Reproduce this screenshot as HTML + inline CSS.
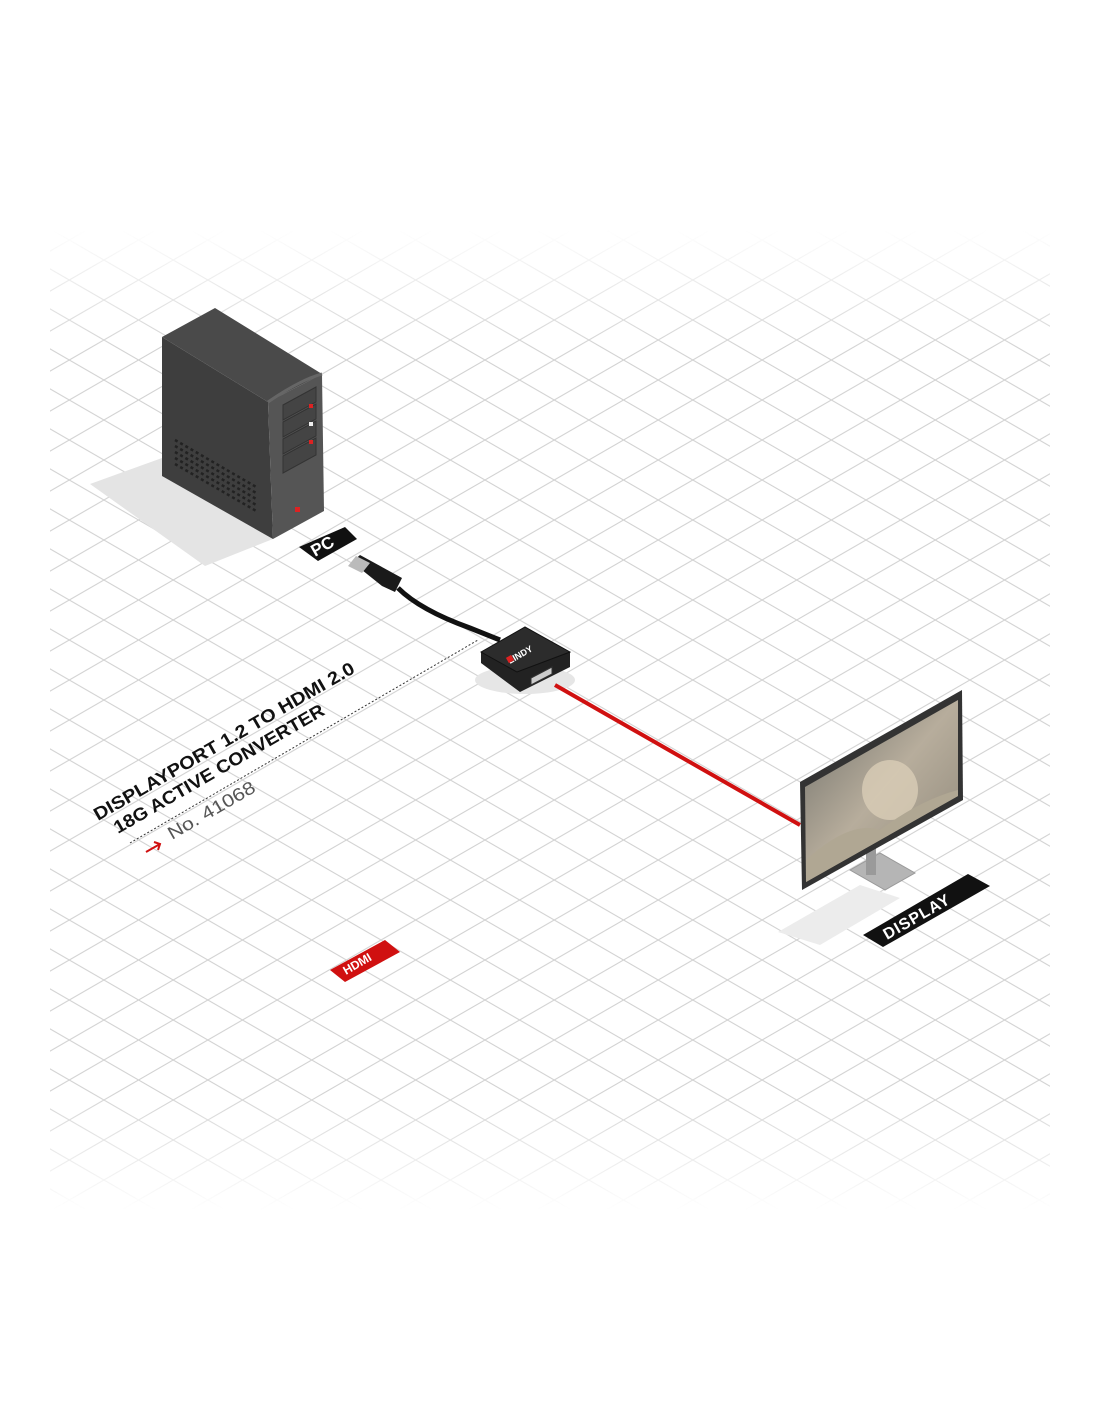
<!DOCTYPE html>
<html><head><meta charset="utf-8"><style>
html,body{margin:0;padding:0;background:#fff;}
svg{display:block;}
text{font-family:"Liberation Sans",sans-serif;}
</style></head><body>
<svg width="1100" height="1422" viewBox="0 0 1100 1422" xmlns="http://www.w3.org/2000/svg">
<defs>
<linearGradient id="fv" x1="0" y1="230" x2="0" y2="1210" gradientUnits="userSpaceOnUse">
<stop offset="0" stop-color="#000"/><stop offset="0.12" stop-color="#fff"/><stop offset="0.88" stop-color="#fff"/><stop offset="1" stop-color="#000"/>
</linearGradient>
<mask id="m"><rect x="50" y="230" width="1000" height="980" fill="url(#fv)"/></mask>
<pattern id="grid" width="69.28" height="40" patternUnits="userSpaceOnUse">
<path d="M0 0 L69.28 40 M0 40 L69.28 0 M-69.28 40 L69.28 -40 M0 80 L69.28 40 M0 -40 L69.28 0 M0 40 L69.28 80" stroke="#d2d2d2" stroke-width="1.1" fill="none"/>
</pattern>
<linearGradient id="scr" x1="0" y1="0" x2="1" y2="1">
<stop offset="0" stop-color="#6e6e68"/><stop offset="0.5" stop-color="#b7ad9c"/><stop offset="1" stop-color="#8d8678"/>
</linearGradient>
</defs>
<rect width="1100" height="1422" fill="#fff"/>
<rect x="0" y="180" width="1100" height="1080" fill="url(#grid)" mask="url(#m)"/>

<!-- PC shadow -->
<polygon points="90,484 162,458 273,539 205,566" fill="#e4e4e4"/>
<!-- PC -->
<polygon points="162,337 268,402 273,539 162,476" fill="#3e3e3e"/>
<polygon points="162,337 215,308 322,374 268,402" fill="#4a4a4a"/>
<polygon points="268,402 322,374 324,511 273,539" fill="#555"/>
<path d="M268 402 Q300 380 322 374" stroke="#666" stroke-width="3" fill="none"/>
<polygon points="283,405 316,387 316,402 283,420" fill="#444" stroke="#333"/>
<polygon points="283,422 316,404 316,419 283,437" fill="#444" stroke="#333"/>
<polygon points="283,439 316,421 316,436 283,454" fill="#444" stroke="#333"/>
<polygon points="283,456 316,438 316,455 283,473" fill="#444" stroke="#333"/>
<rect x="309" y="404" width="4" height="4" fill="#d22"/>
<rect x="309" y="422" width="4" height="4" fill="#eee"/>
<rect x="309" y="440" width="4" height="4" fill="#d22"/>
<rect x="295" y="507" width="5" height="5" fill="#d22"/>
<path d="M175 440 L258 488 M175 446 L258 494 M175 452 L258 500 M175 458 L258 506 M175 464 L258 512" stroke="#222" stroke-width="2.5" stroke-dasharray="3 3"/>

<!-- PC label -->
<polygon points="299,547 345,527 357,539 318,561" fill="#111"/>
<text font-size="17" font-weight="bold" fill="#fff" transform="translate(315,557) rotate(-30)">PC</text>

<!-- DP plug & cable -->
<path d="M398 588 Q420 610 470 628 L500 640" stroke="#111" stroke-width="5" fill="none"/>
<polygon points="352,562 360,555 402,578 395,592 382,586" fill="#1a1a1a"/>
<polygon points="348,566 356,556 370,563 362,573" fill="#bbb"/>

<!-- dotted leader -->
<line x1="130" y1="843" x2="478" y2="640" stroke="#333" stroke-width="1" stroke-dasharray="2 2"/>

<!-- converter -->
<ellipse cx="525" cy="680" rx="50" ry="14" fill="#e6e6e6"/>
<polygon points="481,652 481,663 520,692 570,667 570,652 517,672" fill="#222"/>
<polygon points="481,652 525,627 570,652 517,672" fill="#2c2c2c" stroke="#111"/>
<polygon points="531,678 552,667 552,674 531,685" fill="#ccc" stroke="#333"/>
<text font-size="9" font-weight="bold" fill="#fff" transform="translate(510,664) rotate(-30)">LINDY</text>
<rect x="507" y="656" width="6" height="6" fill="#d22" transform="rotate(-30 510 659)"/>

<!-- red cable -->
<line x1="555" y1="685" x2="800" y2="825" stroke="#d01010" stroke-width="4"/>

<!-- monitor -->
<polygon points="778,932 860,885 900,898 820,945" fill="#ececec"/>
<polygon points="850,870 880,853 915,873 885,890" fill="#b5b5b5" stroke="#999"/>
<rect x="866" y="835" width="10" height="40" fill="#9a9a9a"/>
<polygon points="800,782 962,690 963,800 802,890" fill="#333"/>
<polygon points="805,787 958,700 958,796 806,882" fill="url(#scr)"/>
<ellipse cx="890" cy="790" rx="28" ry="30" fill="#d9cdb6" opacity="0.8"/>
<path d="M806 860 Q850 820 880 830 Q920 800 958 790 L958 796 L806 882Z" fill="#b0a793"/>

<!-- DISPLAY label -->
<polygon points="863,935 968,874 990,886 883,947" fill="#111"/>
<text font-size="16" font-weight="bold" fill="#fff" letter-spacing="1" transform="translate(887,940) rotate(-30)">DISPLAY</text>

<!-- title -->
<text font-size="18" font-weight="900" fill="#111" textLength="298" lengthAdjust="spacingAndGlyphs" transform="translate(98,821) rotate(-30)">DISPLAYPORT 1.2 TO HDMI 2.0</text>
<text font-size="18" font-weight="900" fill="#111" textLength="240" lengthAdjust="spacingAndGlyphs" transform="translate(118,834) rotate(-30)">18G ACTIVE CONVERTER</text>
<text font-size="18" fill="#555" textLength="98" lengthAdjust="spacingAndGlyphs" transform="translate(172,840) rotate(-30)">No. 41068</text>
<path d="M146 852 L160 844 M154 842 L160 844 L158 850" stroke="#d01010" stroke-width="2" fill="none"/>

<!-- HDMI tag -->
<polygon points="330,970 385,940 400,952 345,982" fill="#d01010"/>
<text font-size="12" font-weight="bold" fill="#fff" transform="translate(346,975) rotate(-30)">HDMI</text>
</svg>
</body></html>
